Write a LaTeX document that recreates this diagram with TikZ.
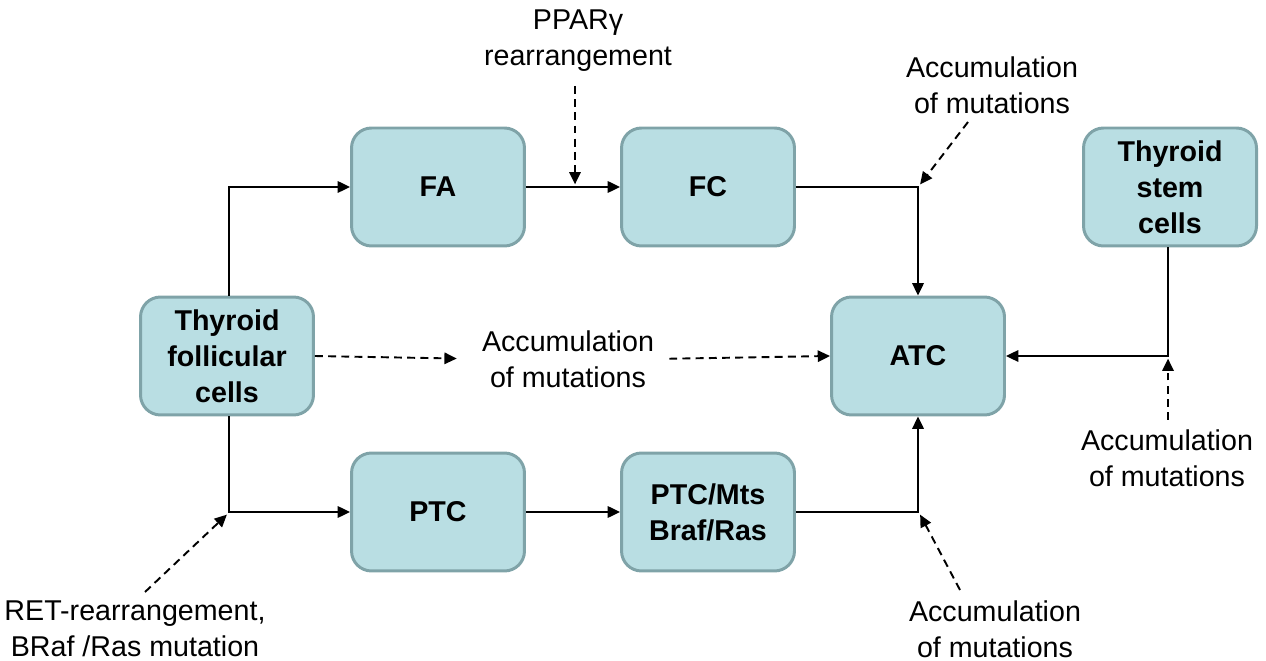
\documentclass[tikz,border=0pt]{standalone}
\usepackage{fontspec}
\setmainfont{Liberation Sans}
\usetikzlibrary{arrows.meta}
\definecolor{boxfill}{HTML}{B9DEE3}
\definecolor{boxedge}{HTML}{7FA3A8}
\begin{document}
\begin{tikzpicture}[x=0.02cm,y=-0.02cm,
  cell/.style={draw=boxedge, fill=boxfill, line width=1.7pt, rounded corners=0.4cm,
    minimum width=3.46cm, minimum height=2.36cm, align=center, inner sep=0pt,
    font=\fontsize{16.3}{20.5}\selectfont\bfseries},
  note/.style={align=center, inner sep=0pt, font=\fontsize{16.3}{20.5}\selectfont},
  flow/.style={line width=1.1pt, -{Triangle[length=7pt,width=6.5pt]}},
  link/.style={line width=1.1pt},
  hint/.style={line width=1.1pt, dash pattern=on 4.5pt off 3pt, -{Triangle[length=7pt,width=6.5pt]}}]
\useasboundingbox (0,0) rectangle (1266,661);

% cell stages
\node[cell] (tfc) at (227,356) {Thyroid\\follicular\\cells};
\node[cell] (fa)  at (438,187) {FA};
\node[cell] (fc)  at (708,187) {FC};
\node[cell] (ptc) at (438,512) {PTC};
\node[cell] (mts) at (708,512) {PTC/Mts\\Braf/Ras};
\node[cell] (atc) at (918,356) {ATC};
\node[cell] (tsc) at (1170,187) {Thyroid\\stem\\cells};

% annotations
\node[note] (ppar) at (578,41)  {PPARγ\\rearrangement};
\node[note] (acc1) at (992,85)  {Accumulation\\of mutations};
\node[note] (acc2) at (568,359) {Accumulation\\of mutations};
\node[note] (acc3) at (1167,458) {Accumulation\\of mutations};
\node[note] (acc4) at (995,629) {Accumulation\\of mutations};
\node[note] (ret)  at (135,629) {RET-rearrangement,\\BRaf /Ras mutation};

% junction points
\coordinate (jfa)  at (229,187);
\coordinate (jptc) at (229,512);
\coordinate (jfc)  at (918,187);
\coordinate (jmts) at (918,512);
\coordinate (jtsc) at (1168,356);
\coordinate (jpp)  at (575,187);

% follicular branches
\draw[flow] (tfc.north -| jfa) -- (jfa) -- (fa.west);
\draw[flow] (tfc.south -| jptc) -- (jptc) -- (ptc.west);
\draw[flow] (fa.east) -- (fc.west);
\draw[flow] (ptc.east) -- (mts.west);
\draw[flow] (fc.east) -- (jfc) -- (atc.north);
\draw[flow] (mts.east) -- (jmts) -- (atc.south);
\draw[flow] (tsc.south -| jtsc) -- (jtsc) -- (atc.east);

% mutation inputs
\draw[hint] (575,86) -- ([yshift=1.5pt]jpp);
\draw[hint] (968,122) -- ([xshift=1.2pt,yshift=1.5pt]jfc);
\draw[hint] (960,590) -- ([xshift=1.2pt,yshift=-1.5pt]jmts);
\draw[hint] (145,592) -- ([xshift=-1.2pt,yshift=-1.5pt]jptc);
\draw[hint] (1168,420) -- ([yshift=-1.5pt]jtsc);
\draw[hint, shorten >=0.5cm] (tfc.east) -- (acc2.west);
\draw[hint, shorten <=0.3cm] (acc2.east) -- (atc.west);
\end{tikzpicture}
\end{document}
